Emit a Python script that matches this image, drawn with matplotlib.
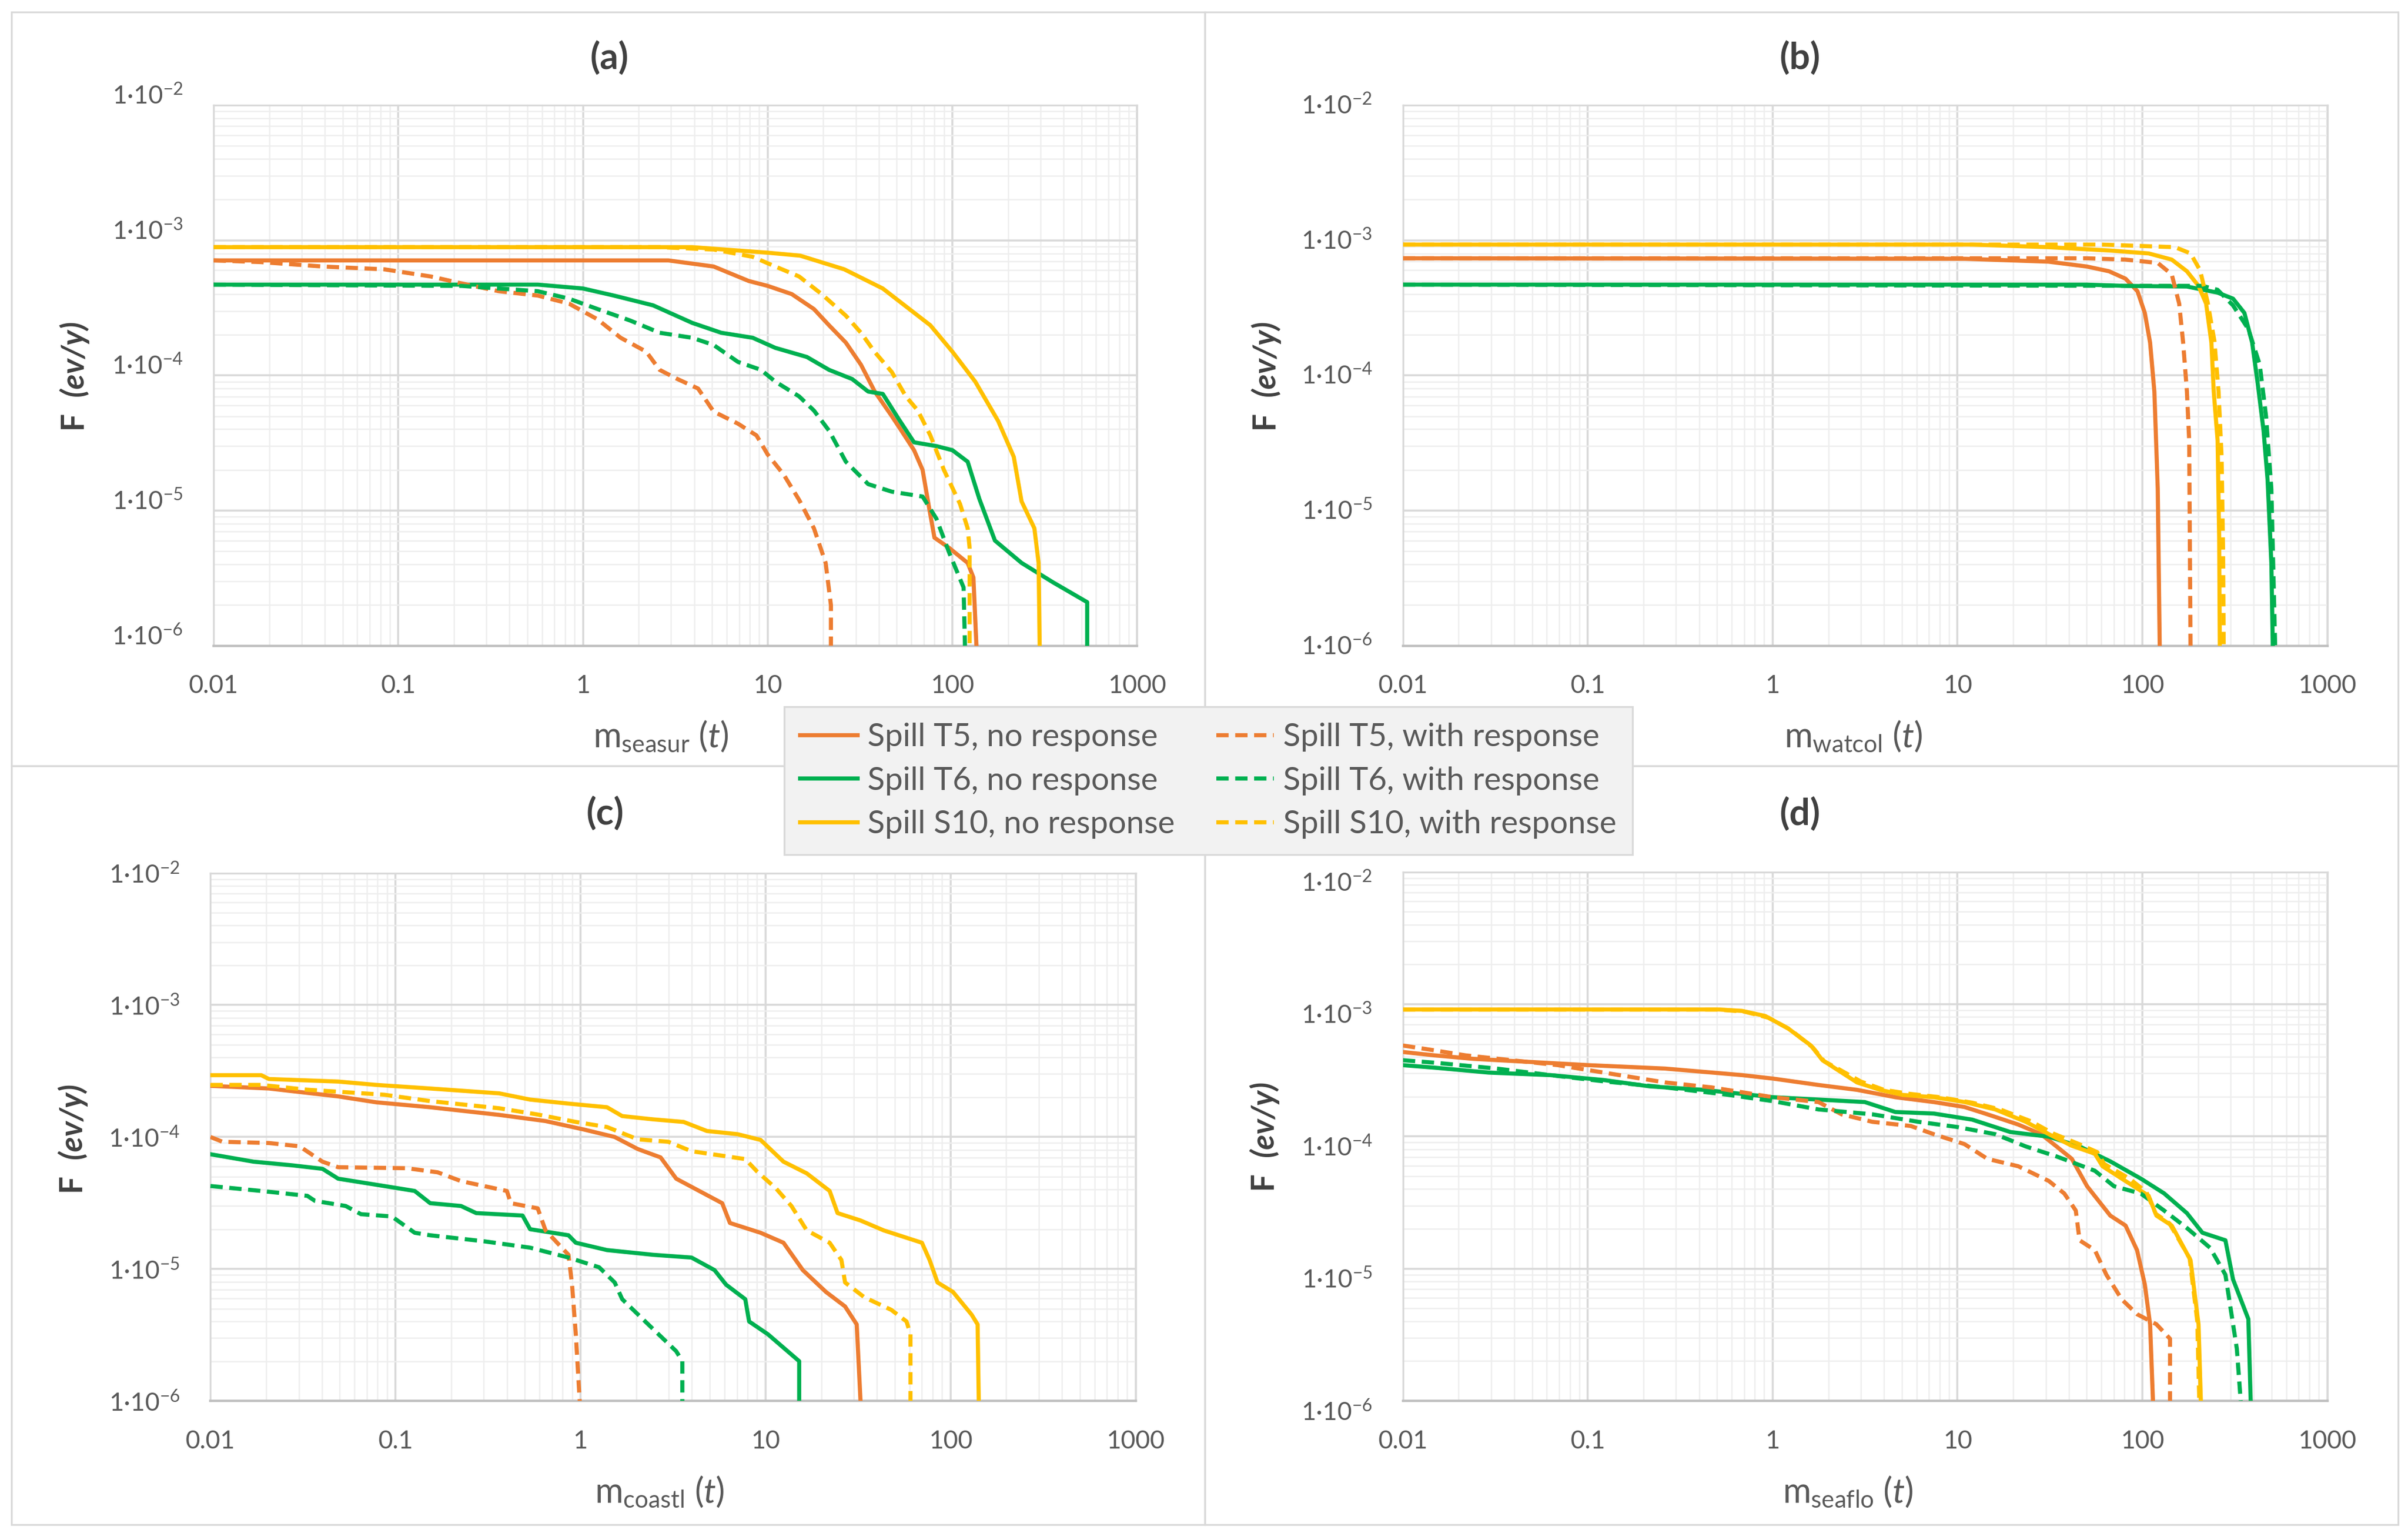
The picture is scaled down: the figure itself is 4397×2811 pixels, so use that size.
import matplotlib
matplotlib.use("Agg")
import matplotlib.pyplot as plt
from matplotlib.patches import Rectangle
from matplotlib.ticker import LogLocator, NullFormatter, FixedLocator
from matplotlib.transforms import ScaledTranslation

plt.rcParams["font.family"] = ["Lato", "DejaVu Sans"]
plt.rcParams["mathtext.fontset"] = "custom"
plt.rcParams["mathtext.rm"] = "Lato"
plt.rcParams["mathtext.it"] = "Lato:italic"
plt.rcParams["mathtext.bf"] = "Lato:bold"
plt.rcParams["mathtext.bfit"] = "Lato:italic:bold"

# ---- data: (mass t, frequency ev/y) ----
# panel (a) sea surface
A_T5_NO = [(0.01, 7.1e-4), (2.9, 7.1e-4), (5.1, 6.4e-4), (7.9, 5.0e-4), (10, 4.6e-4), (13.5, 4.0e-4),
           (17.8, 3.1e-4), (21.5, 2.35e-4), (26.5, 1.75e-4), (32, 1.2e-4), (38, 7.6e-5), (47, 5.0e-5),
           (53, 3.9e-5), (62, 2.8e-5), (69, 2.0e-5), (75, 1.03e-5), (80, 6.3e-6), (96, 5.3e-6),
           (121, 4.1e-6), (130, 3.2e-6), (135, 1e-6)]
A_T6_NO = [(0.01, 4.7e-4), (0.57, 4.7e-4), (1.0, 4.4e-4), (1.47, 3.9e-4), (2.4, 3.3e-4), (3.9, 2.45e-4),
           (5.6, 2.07e-4), (8.3, 1.9e-4), (11, 1.6e-4), (16.3, 1.37e-4), (21.5, 1.1e-4), (28.7, 9.4e-5),
           (35, 7.6e-5), (42, 7.3e-5), (51, 4.8e-5), (62, 3.2e-5), (82, 3.0e-5), (100, 2.8e-5),
           (121, 2.3e-5), (140, 1.22e-5), (170, 6e-6), (237, 4.1e-6), (350, 2.95e-6), (537, 2.1e-6),
           (537, 1e-6)]
A_S10_NO = [(0.01, 8.9e-4), (3.9, 8.9e-4), (10, 8.1e-4), (15, 7.7e-4), (26, 6.1e-4), (42, 4.4e-4),
            (76, 2.35e-4), (100, 1.5e-4), (133, 9e-5), (177, 4.6e-5), (215, 2.5e-5), (237, 1.17e-5),
            (278, 7.4e-6), (293, 4.1e-6), (297, 1e-6)]
A_T5_YES = [(0.01, 7.1e-4), (0.018, 6.9e-4), (0.039, 6.4e-4), (0.084, 6.1e-4), (0.15, 5.4e-4),
            (0.22, 4.8e-4), (0.35, 4.2e-4), (0.57, 3.9e-4), (0.84, 3.4e-4), (1.2, 2.6e-4), (1.6, 1.9e-4),
            (2.2, 1.5e-4), (2.6, 1.1e-4), (3.2, 9.5e-5), (4.2, 8e-5), (5.1, 5.4e-5), (6.9, 4.4e-5),
            (8.7, 3.6e-5), (10, 2.6e-5), (12.2, 1.85e-5), (14.8, 1.2e-5), (17.8, 7.4e-6), (20.6, 4.1e-6),
            (22, 2e-6), (22, 1e-6)]
A_T6_YES = [(0.01, 4.7e-4), (0.22, 4.6e-4), (0.57, 4.2e-4), (0.84, 3.7e-4), (1.2, 3.1e-4), (1.8, 2.55e-4),
            (2.6, 2.07e-4), (3.9, 1.9e-4), (5.1, 1.68e-4), (6.9, 1.26e-4), (9.2, 1.1e-4), (11, 9e-5),
            (14.8, 7e-5), (17.8, 5.5e-5), (21.5, 3.9e-5), (26.5, 2.3e-5), (35, 1.57e-5), (47, 1.38e-5),
            (69, 1.27e-5), (82, 8.7e-6), (96, 4.9e-6), (115, 2.7e-6), (117, 1e-6)]
A_S10_YES = [(0.01, 8.9e-4), (2.6, 8.9e-4), (5.1, 8.55e-4), (8.3, 7.55e-4), (11, 6.4e-4), (14.8, 5.4e-4),
             (19.6, 4.0e-4), (26.5, 2.77e-4), (32, 2.07e-4), (38, 1.49e-4), (47, 1.06e-4), (56, 7e-5),
             (65, 5.5e-5), (76, 3.6e-5), (90, 2.0e-5), (110, 1.12e-5), (121, 7.4e-6), (124, 5.3e-6),
             (124, 1e-6)]

# panel (b) water column
B_T5_NO = [(0.01, 7.36e-4), (11, 7.3e-4), (31, 6.95e-4), (50, 6.4e-4), (66, 5.9e-4), (81, 5.2e-4),
           (94, 4.2e-4), (103, 2.9e-4), (110, 1.75e-4), (116, 7.6e-5), (121, 1.45e-5), (124, 1e-6)]
B_T6_NO = [(0.01, 4.7e-4), (50, 4.7e-4), (81, 4.6e-4), (174, 4.55e-4), (255, 4.1e-4), (309, 3.7e-4),
           (356, 2.9e-4), (392, 1.75e-4), (419, 9e-5), (452, 3.9e-5), (475, 1.7e-5), (498, 4.1e-6),
           (507, 1e-6)]
B_S10_NO = [(0.01, 9.3e-4), (12, 9.3e-4), (31, 8.9e-4), (67, 8.4e-4), (108, 8.0e-4), (144, 7.2e-4),
            (174, 5.9e-4), (201, 4.6e-4), (221, 3.4e-4), (236, 1.75e-4), (243, 7.6e-5), (255, 3.3e-5),
            (260, 6.3e-6), (262, 1e-6)]
B_T5_YES = [(0.01, 7.36e-4), (50, 7.36e-4), (81, 7.2e-4), (121, 6.8e-4), (144, 5.6e-4), (158, 3.4e-4),
            (166, 1.75e-4), (174, 7.6e-5), (179, 3.3e-5), (182, 1e-6)]
B_T6_YES = [(0.01, 4.7e-4), (211, 4.6e-4), (255, 4.3e-4), (309, 3.3e-4), (374, 2.2e-4), (431, 1.2e-4),
            (466, 5e-5), (498, 1.45e-5), (522, 1e-6)]
B_S10_YES = [(0.01, 9.3e-4), (60, 9.3e-4), (150, 8.9e-4), (182, 8.0e-4), (205, 6.0e-4), (225, 3.5e-4),
             (245, 1.8e-4), (258, 7.6e-5), (268, 2.5e-5), (273, 5e-6), (275, 1e-6)]

# panel (c) coastline
C_T5_NO = [(0.01, 2.44e-4), (0.0207, 2.33e-4), (0.049, 2.03e-4), (0.079, 1.83e-4), (0.154, 1.68e-4),
           (0.364, 1.47e-4), (0.647, 1.32e-4), (1.04, 1.14e-4), (1.53, 1.0e-4), (2.04, 8.1e-5),
           (2.71, 7.0e-5), (3.29, 4.83e-5), (4.38, 3.9e-5), (5.83, 3.15e-5), (6.42, 2.23e-5),
           (9.4, 1.88e-5), (12.5, 1.58e-5), (15.9, 9.8e-6), (21.2, 6.7e-6), (26.9, 5.2e-6),
           (31.1, 3.8e-6), (32.6, 1e-6)]
C_T6_NO = [(0.01, 7.4e-5), (0.0171, 6.5e-5), (0.0276, 6.1e-5), (0.0403, 5.74e-5), (0.049, 4.83e-5),
           (0.0869, 4.25e-5), (0.127, 3.9e-5), (0.154, 3.15e-5), (0.226, 3.0e-5), (0.273, 2.65e-5),
           (0.486, 2.54e-5), (0.534, 2.0e-5), (0.861, 1.8e-5), (0.943, 1.58e-5), (1.39, 1.39e-5),
           (2.47, 1.28e-5), (3.98, 1.22e-5), (5.3, 9.8e-6), (6.12, 7.6e-6), (7.77, 5.9e-6),
           (8.15, 4.0e-6), (10.3, 3.2e-6), (15.2, 2.0e-6), (15.2, 1e-6)]
C_S10_NO = [(0.01, 2.94e-4), (0.0188, 2.94e-4), (0.0207, 2.75e-4), (0.049, 2.63e-4), (0.079, 2.48e-4),
            (0.154, 2.33e-4), (0.364, 2.14e-4), (0.534, 1.92e-4), (0.861, 1.79e-4), (1.39, 1.68e-4),
            (1.68, 1.44e-4), (2.47, 1.36e-4), (3.61, 1.3e-4), (4.82, 1.11e-4), (7.06, 1.05e-4),
            (9.4, 9.5e-5), (12.5, 6.5e-5), (16.7, 5.3e-5), (22.2, 3.9e-5), (24.5, 2.65e-5),
            (32.6, 2.33e-5), (43.5, 1.96e-5), (70, 1.58e-5), (77, 1.17e-5), (85, 7.9e-6),
            (103, 6.7e-6), (130, 4.5e-6), (140, 3.8e-6), (142, 1e-6)]
C_T5_YES = [(0.01, 1.0e-4), (0.0116, 9.2e-5), (0.0207, 9.0e-5), (0.0303, 8.5e-5), (0.0403, 6.5e-5),
            (0.049, 5.9e-5), (0.115, 5.8e-5), (0.169, 5.4e-5), (0.226, 4.63e-5), (0.40, 3.9e-5),
            (0.42, 3.15e-5), (0.587, 2.88e-5), (0.647, 1.96e-5), (0.861, 1.28e-5), (0.90, 7.6e-6),
            (0.943, 3.2e-6), (0.99, 1e-6)]
C_T6_YES = [(0.01, 4.25e-5), (0.0188, 3.9e-5), (0.0334, 3.58e-5), (0.0367, 3.28e-5), (0.0538, 3.0e-5),
            (0.0651, 2.6e-5), (0.0955, 2.5e-5), (0.127, 1.88e-5), (0.154, 1.8e-5), (0.301, 1.62e-5),
            (0.534, 1.45e-5), (0.861, 1.22e-5), (1.26, 1.03e-5), (1.53, 7.9e-6), (1.68, 5.9e-6),
            (2.47, 3.5e-6), (3.29, 2.38e-6), (3.55, 2.0e-6), (3.55, 1e-6)]
C_S10_YES = [(0.01, 2.48e-4), (0.0188, 2.48e-4), (0.0334, 2.28e-4), (0.0869, 2.09e-4), (0.154, 1.87e-4),
             (0.364, 1.65e-4), (0.587, 1.48e-4), (0.943, 1.3e-4), (1.39, 1.19e-4), (2.04, 9.6e-5),
             (2.98, 9.2e-5), (3.98, 7.8e-5), (7.77, 6.8e-5), (8.97, 5.5e-5), (11.4, 4.07e-5),
             (13.8, 3.0e-5), (16.7, 1.96e-5), (22.2, 1.58e-5), (25.7, 1.17e-5), (26.9, 7.9e-6),
             (34.2, 6.1e-6), (47.8, 4.9e-6), (57.8, 4.0e-6), (60.7, 3.2e-6), (60.7, 1e-6)]

# panel (d) seafloor
D_T5_NO = [(0.01, 4.35e-4), (0.0149, 4.1e-4), (0.0241, 3.86e-4), (0.047, 3.67e-4), (0.101, 3.46e-4),
           (0.262, 3.26e-4), (0.682, 2.91e-4), (1.0, 2.74e-4), (1.77, 2.45e-4), (2.86, 2.25e-4),
           (4.61, 1.98e-4), (7.43, 1.82e-4), (10.9, 1.67e-4), (14.5, 1.47e-4), (21.3, 1.23e-4),
           (28.3, 1.04e-4), (34.3, 8.4e-5), (41.5, 6.77e-5), (50.2, 4.2e-5), (57.9, 3.26e-5),
           (67, 2.52e-5), (81, 2.12e-5), (93.5, 1.38e-5), (103, 7.6e-6), (110, 3.8e-6), (114, 1e-6)]
D_T6_NO = [(0.01, 3.46e-4), (0.0149, 3.31e-4), (0.0291, 3.04e-4), (0.0626, 2.91e-4), (0.122, 2.67e-4),
           (0.217, 2.39e-4), (0.424, 2.25e-4), (1.0, 1.98e-4), (1.77, 1.9e-4), (3.15, 1.82e-4),
           (4.61, 1.53e-4), (7.43, 1.49e-4), (12, 1.34e-4), (19.3, 1.08e-4), (31.2, 9.95e-5),
           (45.7, 8.4e-5), (67, 6.48e-5), (98, 4.8e-5), (131, 3.71e-5), (174, 2.63e-5),
           (211, 1.87e-5), (281, 1.64e-5), (309, 8.3e-6), (374, 4.16e-6), (385, 1e-6)]
D_S10_NO = [(0.01, 9.12e-4), (0.513, 9.12e-4), (0.682, 8.9e-4), (0.91, 8.15e-4), (1.21, 6.57e-4),
            (1.61, 4.87e-4), (1.86, 3.77e-4), (2.15, 3.31e-4), (2.86, 2.56e-4), (3.81, 2.25e-4),
            (5.07, 2.06e-4), (7.43, 1.98e-4), (10.9, 1.82e-4), (16, 1.6e-4), (23.4, 1.29e-4),
            (31.2, 1.04e-4), (41.5, 8.5e-5), (55.3, 7.4e-5), (60.8, 5.95e-5), (81, 4.6e-5),
            (108, 3.56e-5), (119, 2.52e-5), (144, 2.12e-5), (182, 1.16e-5), (201, 3.8e-6), (207, 1e-6)]
D_T5_YES = [(0.01, 4.87e-4), (0.0149, 4.47e-4), (0.0219, 4.1e-4), (0.0388, 3.77e-4), (0.0689, 3.46e-4),
            (0.122, 3.04e-4), (0.262, 2.56e-4), (0.466, 2.35e-4), (0.682, 2.16e-4), (1.0, 1.98e-4),
            (1.77, 1.82e-4), (2.36, 1.47e-4), (3.46, 1.29e-4), (5.58, 1.2e-4), (7.43, 1.04e-4),
            (10.9, 8.75e-5), (14.5, 6.77e-5), (21.3, 5.95e-5), (31.2, 4.6e-5), (37.8, 3.7e-5),
            (43.6, 2.75e-5), (45.7, 1.64e-5), (55.3, 1.38e-5), (63.8, 9.0e-6), (77.3, 5.86e-6),
            (93.5, 4.53e-6), (119, 3.8e-6), (141, 2.95e-6), (141, 1e-6)]
D_T6_YES = [(0.01, 3.77e-4), (0.0149, 3.61e-4), (0.0321, 3.26e-4), (0.0626, 2.91e-4), (0.122, 2.61e-4),
            (0.262, 2.35e-4), (0.564, 2.07e-4), (1.0, 1.85e-4), (1.77, 1.6e-4), (3.46, 1.47e-4),
            (6.14, 1.29e-4), (9.9, 1.18e-4), (16, 1.04e-4), (23.4, 8.4e-5), (34.3, 7.06e-5),
            (55.3, 5.5e-5), (70.2, 4.2e-5), (98, 3.7e-5), (131, 2.75e-5), (174, 2.03e-5),
            (232, 1.44e-5), (281, 9.0e-6), (324, 2.48e-6), (340, 1e-6)]
D_S10_YES = [(0.01, 9.12e-4), (0.5, 9.12e-4), (0.7, 8.8e-4), (0.95, 7.9e-4), (1.25, 6.4e-4), (1.65, 4.7e-4),
             (1.9, 3.7e-4), (2.3, 3.2e-4), (3.0, 2.6e-4), (4.0, 2.25e-4), (5.5, 2.1e-4), (8.0, 1.98e-4),
             (12, 1.8e-4), (17, 1.6e-4), (25, 1.3e-4), (33, 1.05e-4), (45, 8.8e-5), (57, 7.6e-5),
             (62, 6.2e-5), (85, 4.8e-5), (105, 3.8e-5), (118, 2.6e-5), (140, 2.2e-5), (180, 1.2e-5),
             (198, 4e-6), (203, 1e-6)]

SERIES_LABELS = ["Spill T5, no response", "Spill T6, no response", "Spill S10, no response",
                 "Spill T5, with response", "Spill T6, with response", "Spill S10, with response"]
PANEL_TITLES = ["(a)", "(b)", "(c)", "(d)"]
X_NAMES = ["seasur", "watcol", "coastl", "seaflo"]
X_TICKS = [0.01, 0.1, 1, 10, 100, 1000]
X_TICK_LABELS = ["0.01", "0.1", "1", "10", "100", "1000"]
Y_TICKS = [1e-6, 1e-5, 1e-4, 1e-3, 1e-2]
Y_EXP = [-6, -5, -4, -3, -2]

PANELS = [
    [A_T5_NO, A_T6_NO, A_S10_NO, A_T5_YES, A_T6_YES, A_S10_YES],
    [B_T5_NO, B_T6_NO, B_S10_NO, B_T5_YES, B_T6_YES, B_S10_YES],
    [C_T5_NO, C_T6_NO, C_S10_NO, C_T5_YES, C_T6_YES, C_S10_YES],
    [D_T5_NO, D_T6_NO, D_S10_NO, D_T5_YES, D_T6_YES, D_S10_YES],
]

ORANGE, GREEN, YELLOW = "#ED7D31", "#00B050", "#FFC000"
LINE_COLORS = [ORANGE, GREEN, YELLOW, ORANGE, GREEN, YELLOW]
LINE_DASHED = [False, False, False, True, True, True]
TXT = "#595959"

fig = plt.figure(figsize=(4397 / 200, 2811 / 200), dpi=200)

# panel frames
for x0, y0 in [(0.0048, 0.5027), (0.5003, 0.5027), (0.0048, 0.0100), (0.5003, 0.0100)]:
    fig.patches.append(Rectangle((x0, y0), 0.4955, 0.4927 if y0 < 0.5 else 0.4895,
                                 transform=fig.transFigure, fill=False,
                                 edgecolor="#d9d9d9", lw=1.2, zorder=-5))

axes_pos = [
    [0.0887, 0.5807, 0.3835, 0.3510],
    [0.5826, 0.5807, 0.3839, 0.3510],
    [0.0874, 0.0903, 0.3842, 0.3428],
    [0.5826, 0.0903, 0.3839, 0.3435],
]
title_pos = [(0.253, 0.962), (0.7476, 0.962), (0.2514, 0.4715), (0.7476, 0.471)]
ylab_pos = [(0.031, 0.7554), (0.5258, 0.7554), (0.0303, 0.2602), (0.5252, 0.2618)]
xlab_pos = [(0.2744, 0.5218), (0.7697, 0.5218), (0.2738, 0.0313), (0.7674, 0.0313)]
ytick_shift = [7.5, 1.0, 0.0, -6.0]   # points, Excel places the labels a bit differently per panel

handles = []
for i, curves in enumerate(PANELS):
    ax = fig.add_axes(axes_pos[i])
    ax.set_xscale("log")
    ax.set_yscale("log")
    ax.set_xlim(0.01, 1000)
    ax.set_ylim(1e-6, 1e-2)

    for pts, col, dashed in zip(curves, LINE_COLORS, LINE_DASHED):
        xs = [p[0] for p in pts]
        ys = [p[1] for p in pts]
        if dashed:
            ln, = ax.plot(xs, ys, color=col, lw=2.7, linestyle=(0, (3, 1.6)), zorder=4)
        else:
            ln, = ax.plot(xs, ys, color=col, lw=2.7, zorder=3)
        if i == 0:
            handles.append(ln)

    ax.xaxis.set_major_locator(FixedLocator(X_TICKS))
    ax.set_xticklabels(X_TICK_LABELS)
    ax.xaxis.set_minor_locator(LogLocator(base=10, subs=range(2, 10), numticks=20))
    ax.xaxis.set_minor_formatter(NullFormatter())
    ax.yaxis.set_major_locator(FixedLocator(Y_TICKS))
    ax.set_yticklabels([r"$\mathregular{1·10^{%d}}$" % e for e in Y_EXP])
    ax.yaxis.set_minor_locator(LogLocator(base=10, subs=range(2, 10), numticks=20))
    ax.yaxis.set_minor_formatter(NullFormatter())

    ax.tick_params(which="both", length=0)
    ax.tick_params(axis="x", pad=19, labelsize=16.5, labelcolor=TXT)
    ax.tick_params(axis="y", pad=20, labelsize=16.5, labelcolor=TXT)
    off = ScaledTranslation(0, ytick_shift[i] / 72, fig.dpi_scale_trans)
    for lab in ax.get_yticklabels():
        lab.set_transform(lab.get_transform() + off)

    ax.grid(which="major", color="#d9d9d9", lw=1.3)
    ax.grid(which="minor", color="#eeeeee", lw=0.9)
    ax.set_axisbelow(True)
    for sp in ax.spines.values():
        sp.set_color("#d9d9d9")
        sp.set_linewidth(1.2)
    ax.spines["bottom"].set_color("#bfbfbf")
    ax.spines["bottom"].set_linewidth(1.6)

    fig.text(title_pos[i][0], title_pos[i][1], PANEL_TITLES[i], ha="center", va="center",
             fontsize=24, fontweight="bold", color="#404040")
    fig.text(ylab_pos[i][0], ylab_pos[i][1], r"$\mathbf{F}\ \ \mathbfit{(ev/y)}$",
             rotation=90, ha="center", va="center", fontsize=20.5, color="#404040")
    fig.text(xlab_pos[i][0], xlab_pos[i][1],
             r"$\mathregular{m_{%s}}$ $\mathit{(t)}$" % X_NAMES[i],
             ha="center", va="center", fontsize=22.5, color=TXT)

leg = fig.legend(handles, SERIES_LABELS, loc="center", bbox_to_anchor=(0.5018, 0.493), ncol=2,
                 fontsize=21, frameon=True, fancybox=False, framealpha=1, handlelength=1.8,
                 handletextpad=0.3, columnspacing=1.3, labelspacing=0.45, borderpad=0.5,
                 borderaxespad=0)
leg.get_frame().set_facecolor("#f2f2f2")
leg.get_frame().set_edgecolor("#d9d9d9")
leg.get_frame().set_linewidth(1.2)
for t in leg.get_texts():
    t.set_color(TXT)

fig.savefig("out.png", dpi=200)
